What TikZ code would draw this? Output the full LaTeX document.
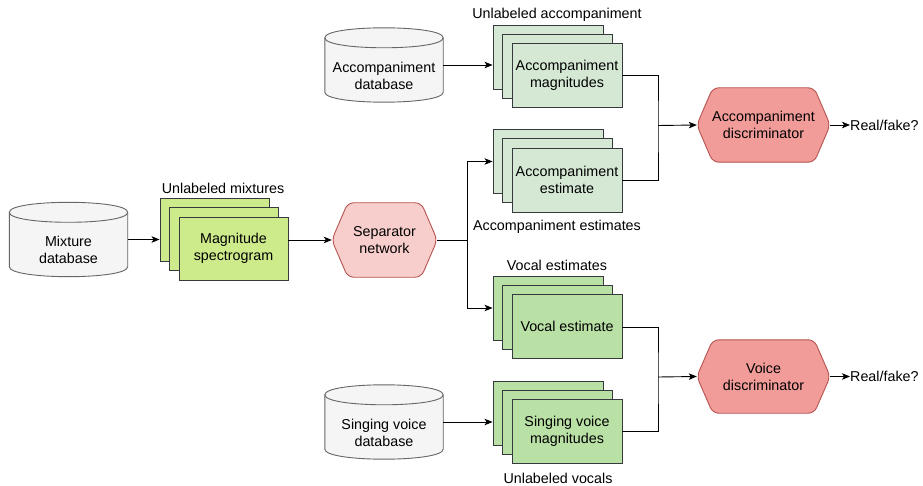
\documentclass[tikz,border=0pt]{standalone}
\usepackage{fontspec}
\setmainfont{Liberation Sans}
\usetikzlibrary{arrows.meta,calc}
\definecolor{cylfill}{HTML}{F5F5F5}
\definecolor{cylline}{HTML}{666666}
\definecolor{boxline}{HTML}{36393D}
\definecolor{mixfill}{HTML}{CDEB8B}
\definecolor{accfill}{HTML}{D5E8D4}
\definecolor{vocfill}{HTML}{B9E0A5}
\definecolor{sepfill}{HTML}{F8CECC}
\definecolor{discfill}{HTML}{F19C99}
\definecolor{hexline}{HTML}{B85450}
\tikzset{
  txt/.style={font=\fontsize{14.3}{17}\selectfont, align=center, inner sep=0pt},
  cylnode/.style={minimum width=118pt, minimum height=74pt, inner sep=0pt},
  cylshape/.style={fill=cylfill, draw=cylline, line width=0.9pt},
  stackbox/.style={draw=boxline, line width=0.9pt, minimum width=110pt, minimum height=64pt, inner sep=0pt, font=\fontsize{14.3}{17}\selectfont, align=center},
  hexnode/.style={minimum height=74pt, inner sep=0pt, font=\fontsize{14.3}{17}\selectfont, align=center},
  hexshape/.style={draw=hexline, line width=0.9pt, rounded corners=6pt},
  conn/.style={line width=0.9pt, draw=black},
  arr/.style={conn, -{Stealth[length=8pt,width=6.5pt,inset=2pt]}},
}
\newcommand{\mycyl}[1]{%
  \path[cylshape] ([yshift=-10pt]#1.north west) -- ([yshift=10pt]#1.south west)
     .. controls ([yshift=-3.33pt]#1.south west) and ([yshift=-3.33pt]#1.south east) .. ([yshift=10pt]#1.south east)
     -- ([yshift=-10pt]#1.north east)
     .. controls ([yshift=3.33pt]#1.north east) and ([yshift=3.33pt]#1.north west) .. ([yshift=-10pt]#1.north west) -- cycle;
  \draw[draw=cylline, line width=0.9pt] ([yshift=-10pt]#1.north west)
     .. controls ([yshift=-23.33pt]#1.north west) and ([yshift=-23.33pt]#1.north east) .. ([yshift=-10pt]#1.north east);
}
\newcommand{\myhex}[3]{% name, fill, slant
  \fill[black!25, opacity=0.5, rounded corners=6pt, xshift=1.5pt, yshift=-2.5pt]
     (#1.west) -- ([xshift=#3]#1.north west) -- ([xshift=-#3]#1.north east) -- (#1.east)
     -- ([xshift=-#3]#1.south east) -- ([xshift=#3]#1.south west) -- cycle;
  \path[hexshape, fill=#2]
     (#1.west) -- ([xshift=#3]#1.north west) -- ([xshift=-#3]#1.north east) -- (#1.east)
     -- ([xshift=-#3]#1.south east) -- ([xshift=#3]#1.south west) -- cycle;
}
\begin{document}
\begin{tikzpicture}[x=1pt, y=-1pt]
\useasboundingbox (0,0) rectangle (923,486);
\fill[white] (0,0) rectangle (923,486);

% databases
\node[cylnode] (mixdb) at (68.5,239.5) {};
\node[cylnode] (accdb) at (384,65) {};
\node[cylnode] (sngdb) at (384,422) {};
\mycyl{mixdb}
\mycyl{accdb}
\mycyl{sngdb}
\node[txt] (mixdbt) at ($(mixdb.center)+(0,10.5)$) {Mixture\\database};
\node[txt] (accdbt) at ($(accdb.center)+(0,11)$) {Accompaniment\\database};
\node[txt] (sngdbt) at ($(sngdb.center)+(0,10.5)$) {Singing voice\\database};

% mixture stack
\node[stackbox, fill=mixfill, minimum width=109pt, minimum height=63pt] (mixB) at (214.5,230) {};
\node[stackbox, fill=mixfill, minimum width=109pt, minimum height=63pt] (mixM) at (224,239.25) {};
\node[stackbox, fill=mixfill, minimum width=109pt, minimum height=63pt] (mix) at (233.5,248.5) {Magnitude\\spectrogram};
\node[txt] (mixlab) at (223,188) {Unlabeled mixtures};

% accompaniment magnitudes stack
\node[stackbox, fill=accfill] (accmagB) at (548,57) {};
\node[stackbox, fill=accfill] (accmagM) at (557.5,66) {};
\node[stackbox, fill=accfill] (accmag) at (567,75) {Accompaniment\\magnitudes};
\node[txt] (accmaglab) at (557,15) {Unlabeled accompaniment};

% accompaniment estimate stack
\node[stackbox, fill=accfill] (accestB) at (548,161.5) {};
\node[stackbox, fill=accfill] (accestM) at (557.5,170.75) {};
\node[stackbox, fill=accfill] (accest) at (567,180) {Accompaniment\\estimate};
\node[txt] (accestlab) at (557,227) {Accompaniment estimates};

% vocal estimate stack
\node[stackbox, fill=vocfill] (vocB) at (548,308) {};
\node[stackbox, fill=vocfill] (vocM) at (557.5,317) {};
\node[stackbox, fill=vocfill] (voc) at (567,326) {Vocal estimate};
\node[txt] (voclab) at (557,265) {Vocal estimates};

% singing voice magnitudes stack
\node[stackbox, fill=vocfill] (sngB) at (548,413) {};
\node[stackbox, fill=vocfill] (sngM) at (557.5,422) {};
\node[stackbox, fill=vocfill] (sng) at (567,431) {Singing voice\\magnitudes};
\node[txt] (snglab) at (558,478) {Unlabeled vocals};

% hexagons
\node[hexnode, minimum width=105pt] (sep) at (384.5,240) {};
\node[hexnode, minimum width=133pt] (accdisc) at (763.5,125) {};
\node[hexnode, minimum width=133pt, minimum height=73pt] (voidisc) at (763.5,376.5) {};
\myhex{sep}{sepfill}{16pt}
\myhex{accdisc}{discfill}{16pt}
\myhex{voidisc}{discfill}{16pt}
\node[txt] (sept) at (sep.center) {Separator\\network};
\node[txt] (accdisct) at (accdisc.center) {Accompaniment\\discriminator};
\node[txt] (voidisct) at (voidisc.center) {Voice\\discriminator};

% outputs
\node[txt, anchor=west] (rf1) at (850,125) {Real/fake?};
\node[txt, anchor=west] (rf2) at (850,376.5) {Real/fake?};

% connectors
\coordinate (split) at (467,240);
\coordinate (mrg1) at (658,125.5);
\coordinate (mrg2) at (658,377);

\draw[arr] (mixdb.east) -- (mixdb.east -| mixB.west);
\draw[arr] (mix.east |- sep.west) -- (sep.west);
\draw[conn] (sep.east) -- (split);
\draw[arr] (split) |- (accestB.west);
\draw[arr] (split) |- (vocB.west);
\draw[arr] (accdb.east) -- (accdb.east -| accmagB.west);
\draw[arr] (sngdb.east) -- (sngdb.east -| sngB.west);

\draw[conn] (accmag.east) -| (mrg1) |- (accest.east);
\draw[arr] (mrg1) -- (accdisc.west);
\draw[conn] ([yshift=-1pt]voc.east) -| (mrg2) |- (sng.east);
\draw[arr] (mrg2) -- (voidisc.west);

\draw[arr] (accdisc.east) -- (rf1.west);
\draw[arr] (voidisc.east) -- (rf2.west);
\end{tikzpicture}
\end{document}
